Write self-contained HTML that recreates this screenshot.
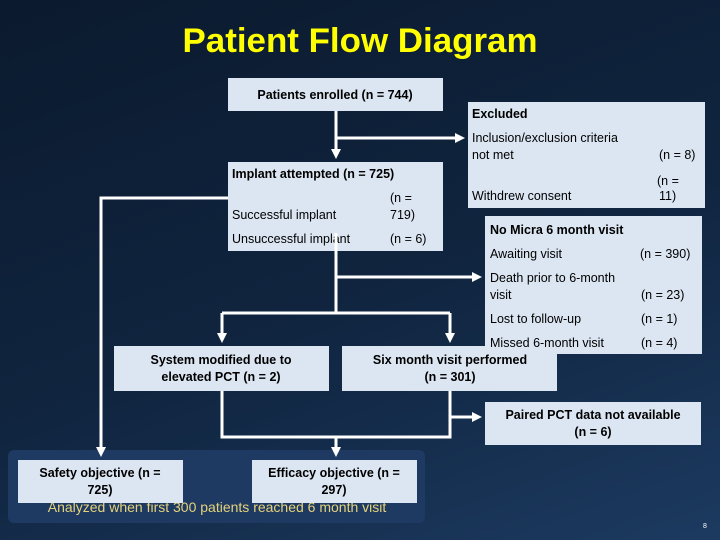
<!DOCTYPE html>
<html><head><meta charset="utf-8"><style>
body{margin:0;width:720px;height:540px;overflow:hidden;background:linear-gradient(160deg,#0b1a2e 0%,#102540 55%,#1c3a60 100%);}
svg{display:block}
text{font-family:"Liberation Sans",sans-serif;fill:#000;font-size:12.5px}
.b{font-weight:bold}
</style></head><body>
<svg width="720" height="540" viewBox="0 0 720 540">
<defs><marker id="a" markerWidth="10" markerHeight="10" refX="7" refY="5" orient="auto" markerUnits="userSpaceOnUse"><path d="M0,0 L10,5 L0,10 z" fill="#fff"/></marker></defs>
<text x="360" y="52" text-anchor="middle" style="font-size:34px;font-weight:bold;fill:#ffff00" textLength="355" lengthAdjust="spacingAndGlyphs">Patient Flow Diagram</text>
<rect x="8" y="450" width="417" height="73" rx="6" fill="#1e3a62"/>
<text x="217" y="512" text-anchor="middle" style="fill:#e6d27a;font-size:14px">Analyzed when first 300 patients reached 6 month visit</text>
<g fill="#dce6f2">
<rect x="228" y="78" width="215" height="33"/>
<rect x="468" y="102" width="237" height="106"/>
<rect x="228" y="162" width="215" height="89"/>
<rect x="485" y="216" width="217" height="138"/>
<rect x="114" y="346" width="215" height="45"/>
<rect x="342" y="346" width="215" height="45"/>
<rect x="485" y="402" width="216" height="43"/>
<rect x="18" y="460" width="165" height="43"/>
<rect x="252" y="460" width="165" height="43"/>
</g>
<text x="335" y="99" text-anchor="middle" class="b">Patients enrolled (n = 744)</text>
<text x="472" y="118" class="b">Excluded</text>
<text x="472" y="142">Inclusion/exclusion criteria</text>
<text x="472" y="159">not met</text>
<text x="659" y="159">(n = 8)</text>
<text x="657" y="185">(n =</text>
<text x="472" y="200">Withdrew consent</text>
<text x="659" y="200">11)</text>
<text x="232" y="178" class="b">Implant attempted (n = 725)</text>
<text x="390" y="202">(n =</text>
<text x="232" y="219">Successful implant</text>
<text x="390" y="219">719)</text>
<text x="232" y="243">Unsuccessful implant</text>
<text x="390" y="243">(n = 6)</text>
<text x="490" y="234" class="b">No Micra 6 month visit</text>
<text x="490" y="258">Awaiting visit</text>
<text x="640" y="258">(n = 390)</text>
<text x="490" y="282">Death prior to 6-month</text>
<text x="490" y="299">visit</text>
<text x="641" y="299">(n = 23)</text>
<text x="490" y="323">Lost to follow-up</text>
<text x="641" y="323">(n = 1)</text>
<text x="490" y="347">Missed 6-month visit</text>
<text x="641" y="347">(n = 4)</text>
<g stroke="#fff" stroke-width="3" fill="none">
<path d="M336 111 V156" marker-end="url(#a)"/>
<path d="M336 138 H462" marker-end="url(#a)"/>
<path d="M228 198 H101 V454" marker-end="url(#a)"/>
<path d="M336 233 V313"/>
<path d="M336 277 H479" marker-end="url(#a)"/>
<path d="M222 313 H450"/>
<path d="M222 313 V340" marker-end="url(#a)"/>
<path d="M450 313 V340" marker-end="url(#a)"/>
<path d="M222 391 V437 H450 V391"/>
<path d="M450 417 H479" marker-end="url(#a)"/>
<path d="M336 437 V454" marker-end="url(#a)"/>
</g>
<text x="221" y="364" text-anchor="middle" class="b">System modified due to</text>
<text x="221" y="381" text-anchor="middle" class="b">elevated PCT (n = 2)</text>
<text x="450" y="364" text-anchor="middle" class="b">Six month visit performed</text>
<text x="450" y="381" text-anchor="middle" class="b">(n = 301)</text>
<text x="593" y="419" text-anchor="middle" class="b">Paired PCT data not available</text>
<text x="593" y="436" text-anchor="middle" class="b">(n = 6)</text>
<text x="100" y="477" text-anchor="middle" class="b">Safety objective (n =</text>
<text x="100" y="494" text-anchor="middle" class="b">725)</text>
<text x="334" y="477" text-anchor="middle" class="b">Efficacy objective (n =</text>
<text x="334" y="494" text-anchor="middle" class="b">297)</text>
<text x="703" y="528" style="fill:#fff;font-size:7px">8</text>
</svg>
</body></html>
